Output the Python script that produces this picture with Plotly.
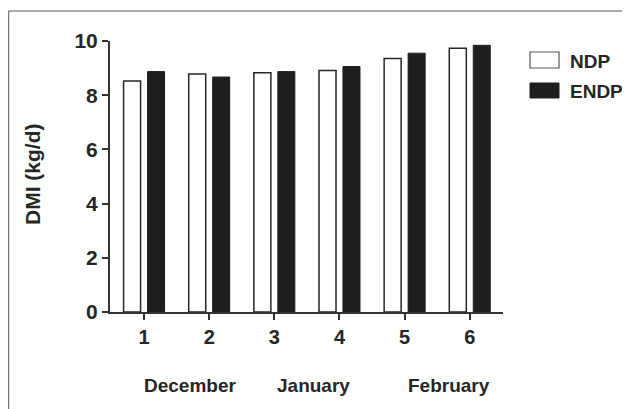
import plotly.graph_objects as go

periods = [1, 2, 3, 4, 5, 6]
ndp = [8.52, 8.78, 8.83, 8.91, 9.35, 9.73]
endp = [8.87, 8.67, 8.87, 9.06, 9.55, 9.84]
months = ["December", "January", "February"]
month_pos = [1.71, 3.6, 5.68]
series_names = ["NDP", "ENDP"]
y_ticks = [0, 2, 4, 6, 8, 10]
y_title = "DMI (kg/d)"

ink = "#262626"
font_family = "Liberation Sans, Arial, sans-serif"

fig = go.Figure()
fig.add_trace(go.Bar(x=periods, y=ndp, name=series_names[0],
                     marker=dict(color="white", line=dict(color=ink, width=1.5))))
fig.add_trace(go.Bar(x=periods, y=endp, name=series_names[1],
                     marker=dict(color="#1e1e1e", line=dict(color="#1e1e1e", width=1))))

OFF = 8  # page body margin
W, H = 630 - OFF, 409 - OFF
L, T = 110 - OFF, 41 - OFF
R = W - (503 - OFF)
B = H - (312 - OFF)
pw, ph = W - L - R, H - T - B

def px_x(p):
    return (p - OFF - L) / pw

def px_y(p):
    return (H - B - (p - OFF)) / ph

shapes = [
    dict(type="line", xref="paper", yref="paper", x0=px_x(8.5), x1=px_x(640),
         y0=px_y(11), y1=px_y(11), line=dict(color="#555", width=1.2)),
    dict(type="line", xref="paper", yref="paper", x0=px_x(8.5), x1=px_x(8.5),
         y0=px_y(11), y1=px_y(420), line=dict(color="#777", width=1.5)),
    dict(type="rect", xref="paper", yref="paper", x0=px_x(530), x1=px_x(559),
         y0=px_y(68), y1=px_y(52), fillcolor="white", line=dict(color="#555", width=1.2)),
    dict(type="rect", xref="paper", yref="paper", x0=px_x(530), x1=px_x(559),
         y0=px_y(98), y1=px_y(83), fillcolor="#1e1e1e", line=dict(color="#1e1e1e", width=1)),
]

annotations = [
    dict(text="<b>" + series_names[0] + "</b>", xref="paper", yref="paper", x=px_x(568), y=px_y(61),
         xanchor="left", yanchor="middle", showarrow=False,
         font=dict(size=19, color=ink, family=font_family)),
    dict(text="<b>" + series_names[1] + "</b>", xref="paper", yref="paper", x=px_x(568), y=px_y(91),
         xanchor="left", yanchor="middle", showarrow=False,
         font=dict(size=19, color=ink, family=font_family)),
    dict(text="<b>" + y_title + "</b>", xref="paper", yref="paper", x=px_x(32), y=px_y(175),
         xanchor="center", yanchor="middle", showarrow=False, textangle=-90,
         font=dict(size=21, color=ink, family=font_family)),
]
for m, xp in zip(months, month_pos):
    annotations.append(dict(text="<b>" + m + "</b>", xref="x", yref="paper", x=xp, y=px_y(385),
                            xanchor="center", yanchor="middle", showarrow=False,
                            font=dict(size=19, color=ink, family=font_family)))

fig.update_layout(
    width=W, height=H,
    margin=dict(l=L, r=R, t=T, b=B),
    paper_bgcolor="white", plot_bgcolor="white",
    barmode="group", bargap=0.264, bargroupgap=0.29,
    showlegend=False,
    shapes=shapes, annotations=annotations,
    font=dict(family=font_family, color=ink),
    xaxis=dict(range=[0.477, 6.51], tickmode="array", tickvals=periods,
               ticktext=["<b>%d</b>" % p for p in periods],
               showline=True, linecolor="#333", linewidth=2,
               ticks="outside", ticklen=6, tickwidth=2, tickcolor="#333",
               showgrid=False, zeroline=False,
               tickfont=dict(size=20, color=ink, family=font_family)),
    yaxis=dict(range=[0, 10], tickmode="array", tickvals=y_ticks,
               ticktext=["<b>%d</b>" % v for v in y_ticks],
               showline=True, linecolor="#333", linewidth=2,
               ticks="outside", ticklen=6, tickwidth=2, tickcolor="#333",
               showgrid=False, zeroline=False,
               tickfont=dict(size=21, color=ink, family=font_family)),
)

fig.write_html("out.html")
